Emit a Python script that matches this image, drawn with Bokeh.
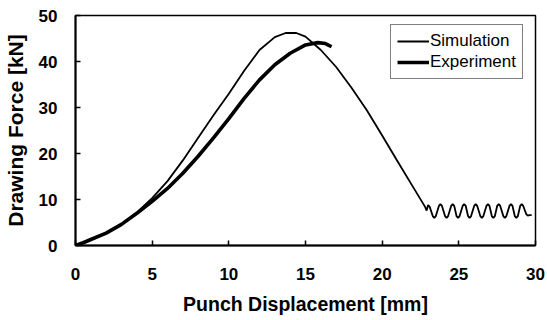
from bokeh.plotting import figure
from bokeh.models import Range1d, SingleIntervalTicker, Legend, LegendItem
from bokeh.embed import file_html
from bokeh.resources import INLINE

# ---- data ----
sim_x = [0, 0.5, 1, 2, 3, 4, 5, 6, 7, 8, 9, 10, 11, 12, 13, 13.7, 14.4, 15, 16, 17, 18, 19, 20, 21, 22, 22.8,
         22.9, 23.0, 23.1, 23.3, 23.4, 23.5, 23.7, 23.8, 23.9, 24.1, 24.2, 24.3, 24.5, 24.6, 24.7,
         24.85, 24.95, 25.05, 25.25, 25.35, 25.45, 25.6, 25.7, 25.8, 26.0, 26.1, 26.2, 26.4, 26.5, 26.6,
         26.8, 26.9, 27.0, 27.15, 27.25, 27.35, 27.5, 27.6, 27.7, 27.9, 28.0, 28.1, 28.3, 28.4, 28.5,
         28.65, 28.75, 28.85, 29.0, 29.1, 29.2, 29.4, 29.5, 29.6, 29.75]
sim_f = [0, 0.6, 1.3, 2.8, 4.7, 7.2, 10.3, 14.0, 18.5, 23.4, 28.3, 33.0, 38.0, 42.5, 45.3, 46.2, 46.2, 45.4, 42.5, 38.8, 34.3, 29.4, 23.9, 18.3, 12.8, 8.4,
         7.6, 8.8, 8.4, 6.4, 6.0, 6.4, 8.6, 9.0, 8.6, 6.4, 6.0, 6.4, 8.6, 9.0, 8.6,
         6.4, 6.0, 6.4, 8.6, 9.0, 8.6, 6.4, 6.0, 6.4, 8.6, 9.0, 8.6, 6.4, 6.0, 6.4,
         8.6, 9.0, 8.6, 6.4, 6.0, 6.4, 8.6, 9.0, 8.6, 6.4, 6.0, 6.4, 8.6, 9.0, 8.6,
         6.4, 6.0, 6.4, 8.6, 9.0, 8.6, 6.8, 6.5, 6.6, 6.6]

exp_x = [0, 0.5, 1, 2, 3, 4, 5, 6, 7, 8, 9, 10, 11, 12, 13, 14, 15, 15.8, 16.3, 16.7]
exp_f = [0, 0.6, 1.3, 2.7, 4.6, 7.0, 9.6, 12.4, 15.7, 19.4, 23.4, 27.6, 32.0, 36.0, 39.3, 41.8, 43.6, 44.1, 43.9, 43.2]

x_label = "Punch Displacement [mm]"
y_label = "Drawing Force [kN]"
series_names = ["Simulation", "Experiment"]

FONT = "Liberation Sans"

p = figure(width=547, height=320, output_backend="svg", toolbar_location=None,
           x_range=Range1d(0, 30), y_range=Range1d(0, 50),
           min_border_left=74, min_border_right=12, min_border_top=15, min_border_bottom=75)
p.background_fill_color = "white"
p.border_fill_color = "white"
p.outline_line_color = "black"
p.outline_line_width = 1.5
p.grid.visible = False

r_sim = p.line(sim_x, sim_f, line_color="black", line_width=1.8)
r_exp = p.line(exp_x, exp_f, line_color="black", line_width=3.6)

p.xaxis.ticker = SingleIntervalTicker(interval=5)
p.yaxis.ticker = SingleIntervalTicker(interval=10)
for ax in (p.xaxis, p.yaxis):
    ax.axis_line_color = "black"
    ax.axis_line_width = 2
    ax.major_tick_in = 5
    ax.major_tick_out = 0
    ax.major_tick_line_width = 1.5
    ax.minor_tick_line_color = None
    ax.major_label_text_font = FONT
    ax.major_label_text_font_style = "bold"
    ax.major_label_text_font_size = "17px"
    ax.major_label_text_color = "black"
    ax.axis_label_text_font = FONT
    ax.axis_label_text_font_style = "bold"
    ax.axis_label_text_color = "black"
p.xaxis.axis_label = x_label
p.yaxis.axis_label = y_label
p.xaxis.axis_label_text_font_size = "19.5px"
p.yaxis.axis_label_text_font_size = "21px"
p.xaxis.major_label_standoff = 18
p.xaxis.axis_label_standoff = 10
p.yaxis.major_label_standoff = 14
p.yaxis.axis_label_standoff = 9

legend = Legend(items=[LegendItem(label=series_names[0], renderers=[r_sim]),
                       LegendItem(label=series_names[1], renderers=[r_exp])],
                location=(315, 166))
legend.margin = 0
legend.padding = 6
legend.spacing = 1
legend.glyph_width = 32
legend.glyph_height = 20
legend.label_standoff = 1
legend.label_text_font = FONT
legend.label_text_font_size = "17px"
legend.label_text_color = "black"
legend.border_line_color = "black"
legend.border_line_width = 1.5
legend.background_fill_color = "white"
legend.background_fill_alpha = 1
p.add_layout(legend, "center")

html = file_html(p, INLINE)
open("out.html", "w").write(html)
